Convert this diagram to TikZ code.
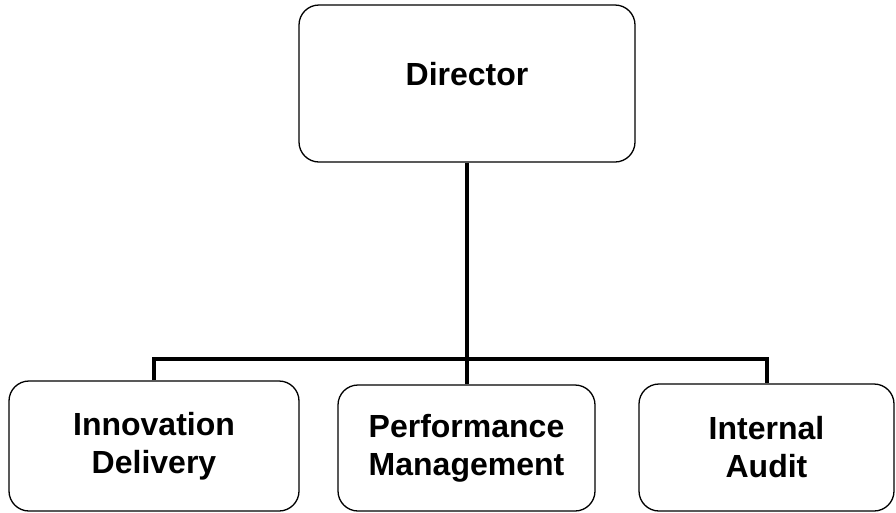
\documentclass[tikz,border=0pt]{standalone}
\usepackage{fontspec}
\setmainfont{Liberation Sans}
\usepackage{tikz}
\usetikzlibrary{calc,positioning}
\tikzstyle{unit} = [rectangle, draw, line width=1.3pt, rounded corners=20pt, align=center, font=\bfseries\fontsize{32}{38}\selectfont]
\tikzstyle{link} = [line width=4pt]

\begin{document}
\begin{tikzpicture}[x=1pt,y=-1pt]
      \useasboundingbox (0,0) rectangle (896,512);
      \node[unit,minimum width=336pt,minimum height=157pt] (Director) at (467,83.5) {\raisebox{20pt}{Director}};
      \node[unit,minimum width=290pt,minimum height=130pt] (InnovDelivery) at (154,446) {Innovation\\Delivery};
      \node[unit,minimum width=257pt,minimum height=126pt] (PerfMgmt) at (466.5,448) {Performance\\Management};
      \node[unit,minimum width=255pt,minimum height=127pt] (IntAudit) at (766.5,447.5) {Internal\\Audit};
      \coordinate (Bus) at (467,359);
      %
      \draw[link] (Director) -- (Bus);
      \draw[link] (InnovDelivery.north) |- (Bus) -| (IntAudit.north);
      \draw[link] (PerfMgmt.north) -- (PerfMgmt.north |- Bus);
    \end{tikzpicture}
\end{document}
